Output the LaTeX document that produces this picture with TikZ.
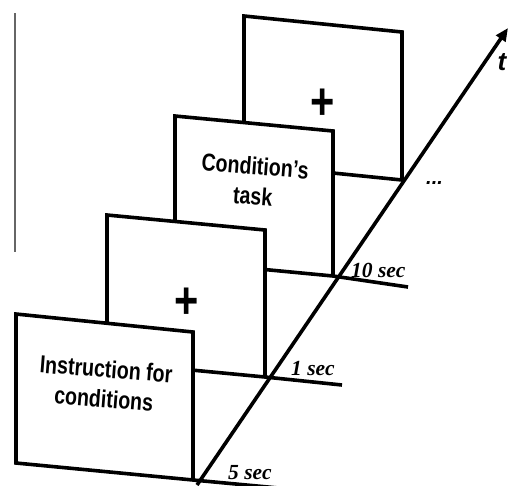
\documentclass[tikz,border=0pt]{standalone}
\usepackage{fontspec}
\setmainfont{Liberation Serif}
\newfontfamily\panelfont[FakeStretch=0.8]{Liberation Sans}
\newfontfamily\labelsans{Liberation Sans}
\usetikzlibrary{arrows.meta}
\begin{document}
\begin{tikzpicture}[x=1pt,y=-1pt,line join=miter,
  panel/.style={draw, fill=white, line width=3.6pt},
  tick/.style={line width=3.6pt},
  paneltext/.style={font=\panelfont\bfseries\fontsize{24.5}{30}\selectfont, align=center, inner sep=0pt, rotate=-4.5},
  plussign/.style={font=\panelfont\bfseries\fontsize{52}{52}\selectfont, inner sep=0pt},
  timelabel/.style={font=\bfseries\itshape\fontsize{21.5}{21.5}\selectfont, anchor=base west, inner sep=0pt}]
\useasboundingbox (0,0) rectangle (510,485);
% thin grey rule at left
\coordinate (g1) at (15,13);
\coordinate (g2) at (15,252);
\draw[black!60, line width=1.3pt] (g1) -- (g2);
% panel 4 (fixation)
\coordinate (p4a) at (244,16);  \coordinate (p4b) at (402,32);
\coordinate (p4c) at (402,180); \coordinate (p4d) at (244,164);
\draw[panel] (p4a) -- (p4b) -- (p4c) -- (p4d) -- cycle;
\node[plussign] (plus2) at (323,104) {+};
% panel 3 (condition's task)
\coordinate (p3a) at (175,116); \coordinate (p3b) at (333,131);
\coordinate (p3c) at (333,276); \coordinate (p3d) at (175,261);
\draw[panel] (p3a) -- (p3b) -- (p3c) -- (p3d) -- cycle;
\node[paneltext] (task) at (254,181) {Condition’s\\task};
% panel 2 (fixation)
\coordinate (p2a) at (107,215); \coordinate (p2b) at (265,230);
\coordinate (p2c) at (265,377); \coordinate (p2d) at (107,362);
\draw[panel] (p2a) -- (p2b) -- (p2c) -- (p2d) -- cycle;
\node[plussign] (plus1) at (187,303) {+};
% panel 1 (instruction)
\coordinate (p1a) at (16,314);  \coordinate (p1b) at (193,332);
\coordinate (p1c) at (193,480); \coordinate (p1d) at (16,463);
\draw[panel] (p1a) -- (p1b) -- (p1c) -- (p1d) -- cycle;
\node[paneltext] (instr) at (105,384) {Instruction for\\conditions};
% extension lines beyond the time axis
\coordinate (e1) at (300,490);
\coordinate (e2) at (342,385);
\coordinate (e3) at (408,287);
\draw[tick] (p1c) -- (e1);
\draw[tick] (p2c) -- (e2);
\draw[tick] (p3c) -- (e3);
% time axis
\coordinate (t0) at (197,485);
\coordinate (t1) at (508,28);
\draw[line width=3.6pt, -{Triangle[length=13pt,width=11pt]}] (t0) -- (t1);
\node[font=\labelsans\bfseries\itshape\fontsize{26}{26}\selectfont, anchor=base, inner sep=0pt] (tlab) at (502,70) {t};
% time labels
\node[timelabel] (l5) at (228,479) {5 sec};
\node[timelabel] (l1) at (291,375) {1 sec};
\node[timelabel] (l10) at (351,277) {10 sec};
\node[font=\labelsans\bfseries\itshape\fontsize{20}{20}\selectfont, anchor=base west, inner sep=0pt] (dots) at (426,184) {...};
\end{tikzpicture}
\end{document}
